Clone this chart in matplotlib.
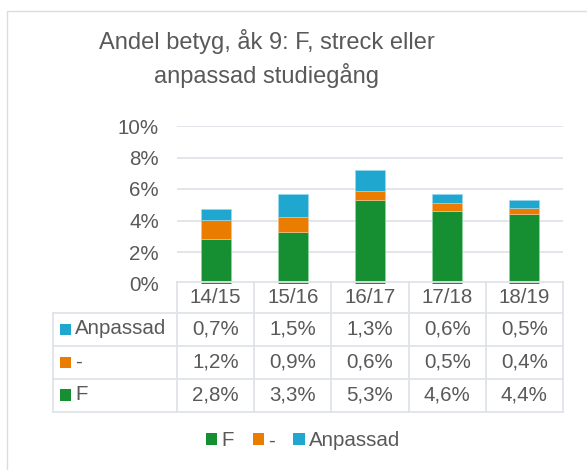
import matplotlib
matplotlib.use("Agg")
import matplotlib.pyplot as plt
from matplotlib.patches import Rectangle
from matplotlib.lines import Line2D

plt.rcParams['font.family'] = ['Liberation Sans', 'DejaVu Sans']

categories = ["14/15", "15/16", "16/17", "17/18", "18/19"]
f_vals = [2.8, 3.3, 5.3, 4.6, 4.4]
dash_vals = [1.2, 0.9, 0.6, 0.5, 0.4]
anp_vals = [0.7, 1.5, 1.3, 0.6, 0.5]
series_names = ["F", "-", "Anpassad"]
yticks = [0, 2, 4, 6, 8, 10]
title_lines = ["Andel betyg, åk 9: F, streck eller", "anpassad studiegång"]

C_F = "#168F33"
C_D = "#EA7D00"
C_A = "#1FA7D0"
TXT = "#595959"
GRID = "#DFE3E7"

W, H = 587, 470
fig = plt.figure(figsize=(W / 100, H / 100), dpi=100)

def fy(py):
    return 1 - py / H

def fx(px):
    return px / W

# chart border
fig.patches.append(Rectangle((fx(7), fy(600)), 1.2, fy(11) - fy(600), transform=fig.transFigure,
                             fill=False, edgecolor="#D9DDE1", linewidth=1.0))

ax_l, ax_r, ax_t, ax_b = 177, 563, 126, 283.5
ax = fig.add_axes([fx(ax_l), fy(ax_b), fx(ax_r - ax_l), fy(ax_t) - fy(ax_b)])
ax.set_xlim(-0.5, 4.5)
ax.set_ylim(0, 10)
for s in ax.spines.values():
    s.set_visible(False)
ax.set_xticks([])
ax.set_yticks(yticks)
ax.set_yticklabels([f"{v}%" for v in yticks], color=TXT, fontsize=14.8)
ax.tick_params(axis='y', length=0, pad=13)
for v in yticks[1:]:
    ax.axhline(v, color=GRID, linewidth=1.3, zorder=0)

x = list(range(len(categories)))
bw = 0.39
bottom2 = [a + b for a, b in zip(f_vals, dash_vals)]
ax.bar(x, f_vals, bw, color=C_F, edgecolor="#8FD3A0", linewidth=0.5, zorder=2)
ax.bar(x, dash_vals, bw, bottom=f_vals, color=C_D, edgecolor="#F5C08A", linewidth=0.5, zorder=2)
ax.bar(x, anp_vals, bw, bottom=bottom2, color=C_A, edgecolor="#9BD8EC", linewidth=0.5, zorder=2)

# data table
col_edges = [ax_l + i * (ax_r - ax_l) / 5 for i in range(6)]
row_edges = [282, 312.5, 345.5, 378.5, 411.5]
lab_l = 53
lw = 1.3
def hline(y, x0, x1):
    fig.add_artist(Line2D([fx(x0), fx(x1)], [fy(y), fy(y)], color=GRID, linewidth=lw, transform=fig.transFigure))
def vline(xp, y0, y1):
    fig.add_artist(Line2D([fx(xp), fx(xp)], [fy(y0), fy(y1)], color=GRID, linewidth=lw, transform=fig.transFigure))

hline(row_edges[0], ax_l, ax_r)
for y in row_edges[1:]:
    hline(y, lab_l, ax_r)
for xp in col_edges:
    vline(xp, row_edges[0], row_edges[-1])
vline(lab_l, row_edges[1], row_edges[-1])

fs = 14.8
for i, c in enumerate(categories):
    cx = (col_edges[i] + col_edges[i + 1]) / 2
    fig.text(fx(cx), fy((row_edges[0] + row_edges[1]) / 2), c, ha='center', va='center',
             color=TXT, fontsize=fs)

rows = [("Anpassad", C_A, anp_vals), ("-", C_D, dash_vals), ("F", C_F, f_vals)]
for r, (name, col, vals) in enumerate(rows):
    yc = (row_edges[r + 1] + row_edges[r + 2]) / 2
    fig.patches.append(Rectangle((fx(60), fy(yc + 5.5)), fx(11), fy(yc - 5.5) - fy(yc + 5.5),
                                 transform=fig.transFigure, facecolor=col, edgecolor='none'))
    fig.text(fx(75), fy(yc), name, ha='left', va='center', color=TXT, fontsize=fs)
    for i, v in enumerate(vals):
        cx = (col_edges[i] + col_edges[i + 1]) / 2
        fig.text(fx(cx), fy(yc), f"{v:.1f}%".replace(".", ","), ha='center', va='center',
                 color=TXT, fontsize=fs)

# title
fig.text(fx(267), fy(49), title_lines[0], ha='center', va='baseline', color=TXT, fontsize=17.0)
fig.text(fx(267), fy(83), title_lines[1], ha='center', va='baseline', color=TXT, fontsize=17.0)

# legend
handles = [Rectangle((0, 0), 1, 1, facecolor=c, edgecolor='none') for c in (C_F, C_D, C_A)]
leg = fig.legend(handles, series_names, loc='center', bbox_to_anchor=(fx(303), fy(441)), ncol=3,
                 frameon=False, fontsize=fs, handlelength=0.55, handleheight=0.55,
                 handletextpad=0.2, columnspacing=0.9, labelcolor=TXT)

fig.savefig("out.png", dpi=100)
